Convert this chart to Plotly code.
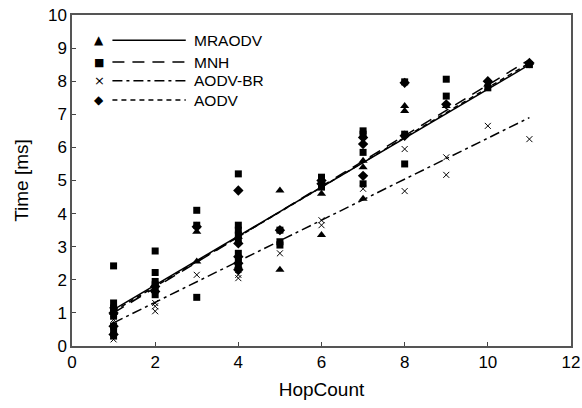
import plotly.graph_objects as go

# ---- data ----
mraodv_x = [1, 1, 2, 3, 3, 4, 4, 5, 5, 6, 6, 7, 7, 7, 8, 8, 9, 10, 11]
mraodv_y = [1.2, 1.0, 1.85, 3.45, 2.55, 3.3, 2.4, 4.7, 2.3, 4.6, 3.35, 5.6, 5.4, 4.45, 7.25, 7.1, 7.25, 7.9, 8.55]

mnh_x = [1, 1, 1, 1, 1, 1, 1, 1, 2, 2, 2, 2, 2, 2, 3, 3, 3, 4, 4, 4, 4, 4, 4, 4, 4,
         5, 5, 5, 6, 6, 6, 7, 7, 7, 7, 8, 8, 8, 9, 9, 10, 11]
mnh_y = [2.42, 1.3, 1.15, 1.05, 0.9, 0.6, 0.45, 0.3, 2.87, 2.22, 1.95, 1.85, 1.7, 1.55,
         4.1, 3.65, 1.47, 5.2, 3.65, 3.5, 3.35, 3.2, 2.8, 2.6, 2.4,
         3.5, 3.15, 3.05, 5.1, 4.95, 4.8, 6.5, 6.4, 5.85, 4.9, 7.98, 6.4, 5.5,
         8.06, 7.55, 7.8, 8.5]

aodvbr_x = [1, 1, 1, 1, 2, 2, 2, 3, 4, 4, 4, 5, 6, 6, 7, 8, 8, 9, 9, 10, 11]
aodvbr_y = [0.2, 0.3, 0.5, 0.8, 1.05, 1.2, 1.3, 2.15, 2.05, 2.15, 2.3, 2.8, 3.8, 3.65,
            4.75, 5.95, 4.68, 5.7, 5.17, 6.65, 6.25]

aodv_x = [1, 1, 1, 2, 2, 3, 4, 4, 4, 4, 4, 5, 6, 6, 7, 7, 7, 8, 8, 9, 10, 11]
aodv_y = [1.0, 0.6, 0.35, 1.8, 1.65, 3.6, 4.7, 3.1, 2.7, 2.5, 2.3, 3.5, 5.0, 4.9,
          6.3, 6.1, 5.14, 7.95, 6.35, 7.3, 8.0, 8.55]

# linear trend lines (end values)
trend_x = [1, 11]
mraodv_trend = [1.1, 8.5]
mnh_trend = [1.0, 8.65]
aodvbr_trend = [0.7, 6.9]
aodv_trend = [1.05, 8.55]

x_ticks = [0, 2, 4, 6, 8, 10, 12]
y_ticks = list(range(0, 11))

series_names = ["MRAODV", "MNH", "AODV-BR", "AODV"]

FONT = "Liberation Sans Narrow, Arial Narrow, Liberation Sans, Arial, sans-serif"
BLACK = "#000000"

fig = go.Figure()

# scatter points
fig.add_trace(go.Scatter(x=mraodv_x, y=mraodv_y, mode="markers",
                         marker=dict(symbol="triangle-up", size=8, color=BLACK), showlegend=False))
fig.add_trace(go.Scatter(x=mnh_x, y=mnh_y, mode="markers",
                         marker=dict(symbol="square", size=7, color=BLACK), showlegend=False))
fig.add_trace(go.Scatter(x=aodvbr_x, y=aodvbr_y, mode="markers",
                         marker=dict(symbol="x-thin", size=6, color=BLACK,
                                     line=dict(width=1, color=BLACK)), showlegend=False))
fig.add_trace(go.Scatter(x=aodv_x, y=aodv_y, mode="markers",
                         marker=dict(symbol="diamond", size=8, color=BLACK), showlegend=False))

# trend lines
fig.add_trace(go.Scatter(x=trend_x, y=mraodv_trend, mode="lines",
                         line=dict(color=BLACK, width=1.5, dash="solid"), showlegend=False))
fig.add_trace(go.Scatter(x=trend_x, y=mnh_trend, mode="lines",
                         line=dict(color=BLACK, width=1.5, dash="12px,8px"), showlegend=False))
fig.add_trace(go.Scatter(x=trend_x, y=aodvbr_trend, mode="lines",
                         line=dict(color=BLACK, width=1.5, dash="10px,4px,3px,4px"), showlegend=False))
fig.add_trace(go.Scatter(x=trend_x, y=aodv_trend, mode="lines",
                         line=dict(color=BLACK, width=1.5, dash="5px,4px"), showlegend=False))

# manual legend (marker, line sample, label) in paper coordinates
leg_rows = [0.924, 0.858, 0.801, 0.743]
leg_syms = ["▲", "■", "×", "◆"]
leg_sizes = [12, 11, 13, 12]
leg_dash_px = ["solid", "12px,8px", "10px,4px,3px,4px", "5px,4px"]
shapes = []
annotations = []
for row, sym, sz, dsh, name in zip(leg_rows, leg_syms, leg_sizes, leg_dash_px, series_names):
    annotations.append(dict(x=0.055, y=row, xref="paper", yref="paper", text=sym,
                            showarrow=False, font=dict(size=sz, color=BLACK, family="DejaVu Sans"),
                            xanchor="center", yanchor="middle"))
    shapes.append(dict(type="line", xref="paper", yref="paper", x0=0.081, x1=0.228,
                       y0=row, y1=row, line=dict(color=BLACK, width=1.5, dash=dsh)))
    annotations.append(dict(x=0.24, y=row, xref="paper", yref="paper", text=name,
                            showarrow=False, font=dict(size=15.5, color=BLACK, family=FONT),
                            xanchor="left", yanchor="middle"))

fig.update_layout(
    width=582, height=408,
    margin=dict(l=72, r=11, t=15, b=62),
    paper_bgcolor="white", plot_bgcolor="white",
    font=dict(family=FONT, size=17, color=BLACK),
    shapes=shapes, annotations=annotations,
    showlegend=False,
)
fig.update_xaxes(range=[0, 12], tickvals=x_ticks, ticks="inside", ticklen=4,
                 tickcolor="#444", showgrid=False, zeroline=False, automargin=False,
                 showline=True, linecolor="#555", linewidth=1.5, mirror=True,
                 title=dict(text="HopCount", font=dict(size=19, family=FONT), standoff=12),
                 tickfont=dict(size=17, family=FONT))
fig.update_yaxes(range=[0, 10], tickvals=y_ticks, ticks="inside", ticklen=4,
                 tickcolor="#444", showgrid=False, zeroline=False, automargin=False,
                 showline=True, linecolor="#555", linewidth=1.5, mirror=True,
                 title=dict(text="Time [ms]", font=dict(size=19, family=FONT), standoff=14),
                 tickfont=dict(size=17, family=FONT))

fig.write_html("out.html", config={"displayModeBar": False},
               post_script="document.body.style.margin='0';")
